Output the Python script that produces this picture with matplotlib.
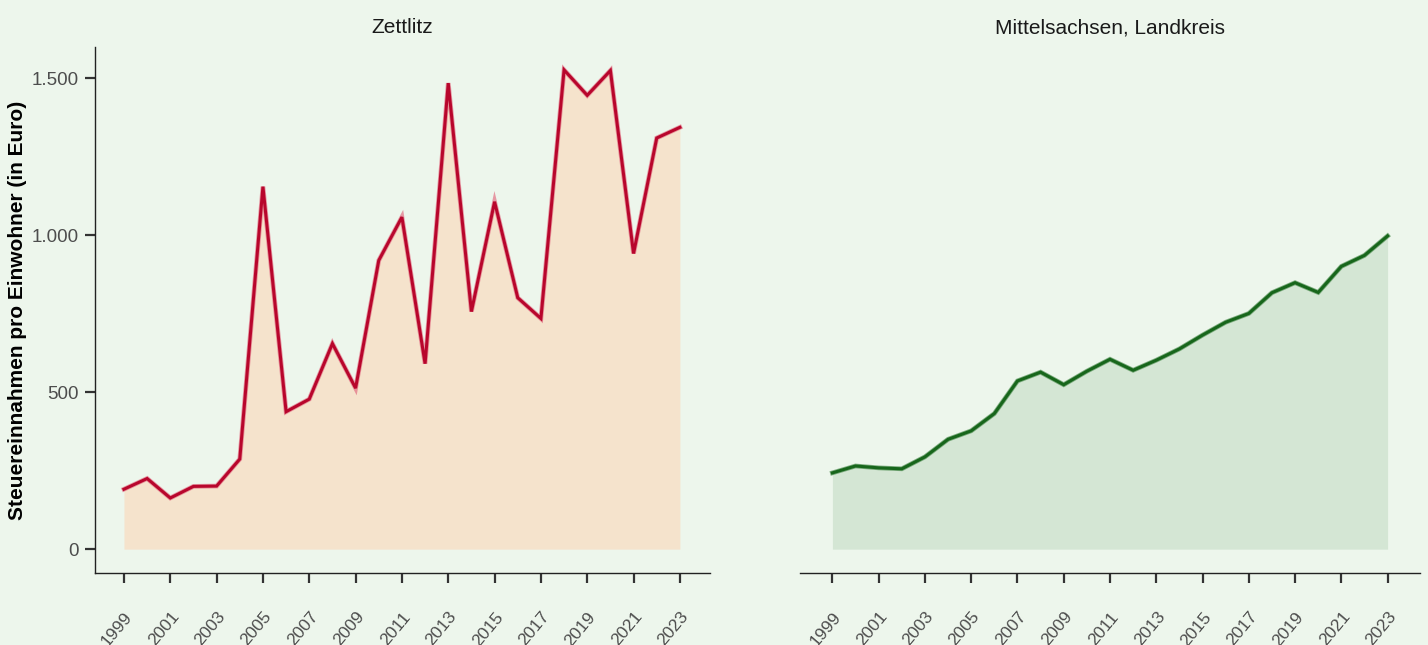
import numpy as np
import matplotlib.pyplot as plt
from matplotlib.ticker import FuncFormatter

plt.rcParams['font.family'] = ['Liberation Sans', 'DejaVu Sans']

years = list(range(1999, 2024))
zettlitz = [191, 225, 163, 200, 201, 287, 1155, 438, 478, 655, 513, 920, 1058, 591,
            1485, 757, 1107, 801, 735, 1527, 1446, 1525, 942, 1310, 1344]
mittelsachsen = [243, 265, 259, 256, 294, 350, 377, 432, 536, 564, 524, 567, 605, 570,
                 602, 638, 682, 723, 751, 817, 849, 818, 901, 936, 998]
panel_titles = ['Zettlitz', 'Mittelsachsen, Landkreis']
ylabel = 'Steuereinnahmen pro Einwohner (in Euro)'

bg = '#EDF6EC'
fig = plt.figure(figsize=(14.28, 6.45), dpi=100, facecolor=bg)
ax1 = fig.add_axes([95 / 1428, 1 - 573 / 645, 615 / 1428, 526 / 645])
ax2 = fig.add_axes([800 / 1428, 1 - 573 / 645, 620 / 1428, 526 / 645])


def de_fmt(v, pos):
    return f'{int(v):,}'.replace(',', '.')


styles = [
    (ax1, zettlitz, '#F5E3CC', '#B8062C', '#E27084', (1997.75, 2024.3)),
    (ax2, mittelsachsen, '#D4E6D4', '#17661B', '#4F8F52', (1997.6, 2024.4)),
]

for i, (ax, vals, fill, line, edge, xl) in enumerate(styles):
    ax.set_facecolor(bg)
    ax.fill_between(years, 0, vals, color=fill, lw=0)
    ax.plot(years, vals, color=edge, lw=3.4, solid_joinstyle='miter', alpha=0.7)
    ax.plot(years, vals, color=line, lw=2.2, solid_joinstyle='miter')
    ax.set_xlim(*xl)
    ax.set_ylim(-76, 1600)
    ax.set_xticks(years[::2])
    ax.set_xticklabels([str(y) for y in years[::2]], rotation=50, ha='right',
                       va='top', rotation_mode='anchor')
    ax.tick_params(axis='x', length=7, width=1.6, color='#333333', pad=19,
                   labelsize=12.5, labelcolor='#4D4D4D')
    for s in ['top', 'right']:
        ax.spines[s].set_visible(False)
    ax.spines['bottom'].set_linewidth(1.0)
    ax.spines['bottom'].set_color('#222222')
    ax.set_title(panel_titles[i], fontsize=15, color='#1A1A1A', pad=10)

ax1.set_yticks([0, 500, 1000, 1500])
ax1.yaxis.set_major_formatter(FuncFormatter(de_fmt))
ax1.tick_params(axis='y', length=7, width=1.6, color='#333333', pad=5,
                labelsize=13.5, labelcolor='#4D4D4D')
ax1.spines['left'].set_linewidth(1.0)
ax1.spines['left'].set_color('#222222')
ax1.set_ylabel(ylabel, fontsize=15, fontweight='bold', labelpad=3)

ax2.spines['left'].set_visible(False)
ax2.set_yticks([])

fig.savefig('out.png', dpi=100, facecolor=bg)
